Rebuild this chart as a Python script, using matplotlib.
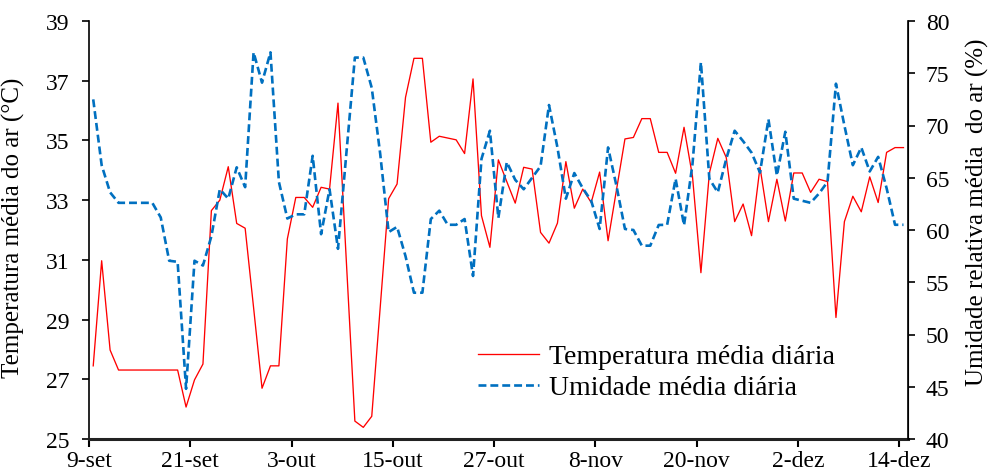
import matplotlib
matplotlib.use("Agg")
import matplotlib.pyplot as plt
import numpy as np

# Daily data, 9-set .. 14-dez (97 days)
temperatura = [
    27.45, 30.97, 27.98, 27.31, 27.31, 27.31, 27.31, 27.31, 27.31, 27.31,
    27.31, 26.07, 26.98, 27.51, 32.65, 33.00, 34.12, 32.22, 32.06, 29.40,
    26.70, 27.45, 27.45, 31.70, 33.09, 33.09, 32.76, 33.43, 33.37, 36.25,
    30.90, 25.60, 25.39, 25.76, 29.40, 33.05, 33.54, 36.44, 37.75, 37.75,
    34.94, 35.14, 35.08, 35.02, 34.56, 37.06, 32.48, 31.42, 34.35, 33.62,
    32.90, 34.10, 34.04, 31.92, 31.56, 32.23, 34.29, 32.73, 33.37, 32.92,
    33.94, 31.64, 33.35, 35.05, 35.10, 35.73, 35.73, 34.60, 34.60, 33.90,
    35.44, 33.80, 30.57, 33.90, 35.07, 34.43, 32.28, 32.87, 31.81, 34.10,
    32.28, 33.70, 32.30, 33.91, 33.91, 33.26, 33.70, 33.62, 29.07, 32.28,
    33.13, 32.61, 33.78, 32.92, 34.60, 34.76, 34.76,
]
umidade = [
    72.5, 66.2, 63.6, 62.6, 62.6, 62.6, 62.6, 62.6, 61.2, 57.06,
    56.95, 44.8, 57.06, 56.6, 59.4, 63.9, 63.0, 66.0, 64.1, 77.0,
    74.1, 77.0, 64.6, 61.1, 61.5, 61.5, 67.1, 59.6, 63.9, 58.2,
    67.4, 76.5, 76.5, 73.6, 67.3, 59.8, 60.3, 57.5, 54.0, 54.0,
    61.05, 61.85, 60.5, 60.5, 61.05, 55.6, 66.8, 69.5, 61.15, 66.5,
    64.8, 63.9, 65.0, 66.1, 71.96, 67.9, 63.0, 65.45, 64.0, 62.8,
    60.1, 67.9, 64.2, 60.1, 60.0, 58.5, 58.5, 60.48, 60.5, 64.9,
    60.45, 66.3, 76.05, 64.9, 63.6, 66.8, 69.5, 68.5, 67.4, 65.5,
    70.6, 65.2, 69.4, 63.0, 62.8, 62.6, 63.5, 64.6, 74.0, 70.0,
    66.2, 67.9, 65.6, 67.0, 64.0, 60.5, 60.5,
]
tick_labels = ['9-set', '21-set', '3-out', '15-out', '27-out', '8-nov', '20-nov', '2-dez', '14-dez']
temp_ticks = [25, 27, 29, 31, 33, 35, 37, 39]
umid_ticks = [40, 45, 50, 55, 60, 65, 70, 75, 80]

plt.rcParams['font.family'] = ['Liberation Serif', 'DejaVu Serif']
FS_TICK = 17
FS_AX = 18
FS_LEG = 20

W, H = 990, 477
fig = plt.figure(figsize=(W / 100, H / 100), dpi=100)
ax = fig.add_axes([89 / W, (H - 440) / H, (907.7 - 89) / W, 418 / H])
ax2 = ax.twinx()

n = len(temperatura)
x = np.arange(n) + 0.5
l1, = ax.plot(x, temperatura, color='#FF0000', lw=0.95, label='Temperatura média diária')
l2, = ax2.plot(x, umidade, color='#0070C0', lw=1.9, dashes=(3, 1.5), label='Umidade média diária')

ax.set_xlim(0, n)
ax.set_ylim(25, 39)
ax2.set_ylim(40, 80)
ax.set_yticks(temp_ticks)
ax2.set_yticks(umid_ticks)
ax.set_xticks(np.arange(0, n, 12))
ax.set_xticklabels(tick_labels)

for a in (ax, ax2):
    a.spines['top'].set_visible(False)
    a.tick_params(direction='out', length=5, width=1.2, labelsize=FS_TICK, colors='black')
ax.spines['bottom'].set_linewidth(2.2)
ax.spines['bottom'].set_color('#222222')
ax.spines['left'].set_linewidth(1.2)
ax2.spines['right'].set_linewidth(1.2)
ax2.spines['bottom'].set_visible(False)
ax2.spines['left'].set_visible(False)
ax.tick_params(axis='x', pad=2, length=6, width=1.5)
ax.tick_params(axis='y', pad=9)
ax2.tick_params(axis='y', pad=8)

ax.set_ylabel('Temperatura média do ar (°C)', fontsize=FS_AX)
ax2.set_ylabel('Umidade relativa média  do ar (%)', fontsize=FS_AX)
ax.yaxis.set_label_coords((25 - 89) / (907.7 - 89), (440 - 228) / 418)
ax2.yaxis.set_label_coords((966 - 89) / (907.7 - 89), (440 - 212) / 418)

fig.legend(handles=[l1, l2], loc='upper left', bbox_to_anchor=(478 / W, 1 - 345 / H),
           frameon=False, fontsize=FS_LEG, handlelength=2.2, handletextpad=0.35,
           labelspacing=0.2, borderaxespad=0, borderpad=0)

fig.savefig('out.png', dpi=100)
